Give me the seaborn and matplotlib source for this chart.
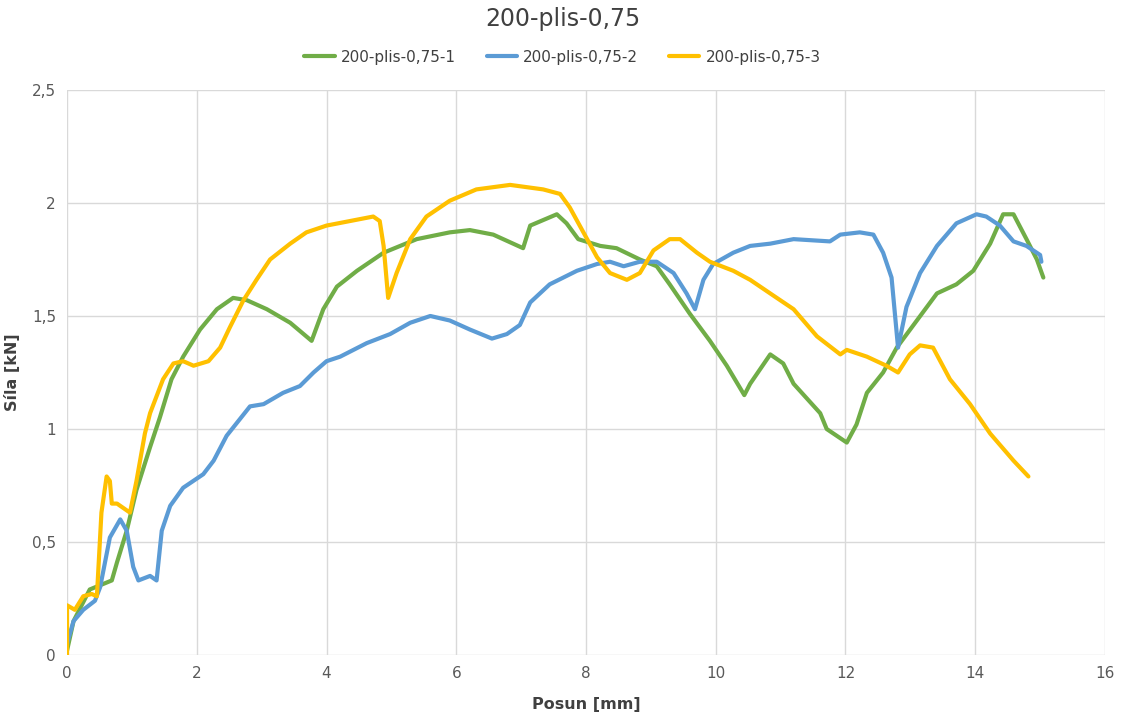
import matplotlib
matplotlib.use("Agg")
import matplotlib.pyplot as plt
import seaborn as sns
import pandas as pd
from matplotlib.ticker import FuncFormatter, MultipleLocator

# Posun [mm] / Síla [kN] for each specimen
x1 = [0.00, 0.10, 0.35, 0.69, 0.77, 0.92, 1.07, 1.28, 1.43, 1.61, 1.79, 2.05, 2.31, 2.56, 2.77,
      3.08, 3.44, 3.77, 3.95, 4.16, 4.47, 4.88, 5.39, 5.90, 6.21, 6.57, 7.03, 7.14, 7.55, 7.70,
      7.88, 8.22, 8.47, 8.83, 9.09, 9.29, 9.60, 9.91, 10.17, 10.44, 10.53, 10.84, 11.04, 11.20,
      11.61, 11.71, 12.02, 12.17, 12.33, 12.58, 12.79, 13.10, 13.41, 13.71, 13.97, 14.23, 14.43,
      14.59, 14.79, 14.95, 15.05]
y1 = [0.02, 0.15, 0.29, 0.33, 0.41, 0.55, 0.73, 0.92, 1.05, 1.22, 1.32, 1.44, 1.53, 1.58, 1.57,
      1.53, 1.47, 1.39, 1.53, 1.63, 1.70, 1.78, 1.84, 1.87, 1.88, 1.86, 1.80, 1.90, 1.95, 1.91,
      1.84, 1.81, 1.80, 1.75, 1.72, 1.64, 1.51, 1.39, 1.28, 1.15, 1.20, 1.33, 1.29, 1.20,
      1.07, 1.00, 0.94, 1.02, 1.16, 1.25, 1.36, 1.48, 1.60, 1.64, 1.70, 1.82, 1.95,
      1.95, 1.84, 1.75, 1.67]

x2 = [0.00, 0.10, 0.25, 0.43, 0.51, 0.66, 0.82, 0.92, 1.02, 1.10, 1.28, 1.38, 1.46, 1.59, 1.79,
      2.10, 2.26, 2.46, 2.82, 3.03, 3.33, 3.59, 3.80, 4.00, 4.21, 4.62, 4.98, 5.29, 5.60, 5.90,
      6.21, 6.55, 6.78, 6.98, 7.14, 7.44, 7.86, 8.17, 8.37, 8.58, 8.83, 9.09, 9.35, 9.55, 9.68,
      9.81, 9.96, 10.27, 10.53, 10.84, 11.20, 11.76, 11.92, 12.22, 12.43, 12.58, 12.71, 12.81,
      12.94, 13.15, 13.41, 13.71, 14.02, 14.17, 14.38, 14.59, 14.79, 15.00, 15.02]
y2 = [0.05, 0.15, 0.20, 0.24, 0.30, 0.52, 0.60, 0.55, 0.39, 0.33, 0.35, 0.33, 0.55, 0.66, 0.74,
      0.80, 0.86, 0.97, 1.10, 1.11, 1.16, 1.19, 1.25, 1.30, 1.32, 1.38, 1.42, 1.47, 1.50, 1.48,
      1.44, 1.40, 1.42, 1.46, 1.56, 1.64, 1.70, 1.73, 1.74, 1.72, 1.74, 1.74, 1.69, 1.60, 1.53,
      1.66, 1.73, 1.78, 1.81, 1.82, 1.84, 1.83, 1.86, 1.87, 1.86, 1.78, 1.67, 1.36,
      1.54, 1.69, 1.81, 1.91, 1.95, 1.94, 1.90, 1.83, 1.81, 1.77, 1.74]

x3 = [0.00, 0.00, 0.12, 0.25, 0.38, 0.46, 0.53, 0.61, 0.66, 0.69, 0.77, 0.97, 1.07, 1.20, 1.28,
      1.48, 1.64, 1.79, 1.95, 2.18, 2.36, 2.51, 2.72, 2.92, 3.13, 3.44, 3.69, 4.00, 4.36, 4.72,
      4.82, 4.88, 4.95, 5.08, 5.29, 5.54, 5.90, 6.31, 6.83, 7.34, 7.60, 7.75, 7.96, 8.17, 8.37,
      8.63, 8.83, 9.04, 9.29, 9.45, 9.71, 9.91, 10.27, 10.53, 10.89, 11.20, 11.56, 11.92, 12.02,
      12.33, 12.63, 12.81, 12.99, 13.15, 13.35, 13.61, 13.92, 14.23, 14.59, 14.82]
y3 = [0.00, 0.22, 0.20, 0.26, 0.27, 0.26, 0.63, 0.79, 0.77, 0.67, 0.67, 0.63, 0.77, 0.98, 1.07,
      1.22, 1.29, 1.30, 1.28, 1.30, 1.36, 1.45, 1.57, 1.66, 1.75, 1.82, 1.87, 1.90, 1.92, 1.94,
      1.92, 1.81, 1.58, 1.69, 1.84, 1.94, 2.01, 2.06, 2.08, 2.06, 2.04, 1.98, 1.87, 1.76, 1.69,
      1.66, 1.69, 1.79, 1.84, 1.84, 1.78, 1.74, 1.70, 1.66, 1.59, 1.53, 1.41, 1.33, 1.35,
      1.32, 1.28, 1.25, 1.33, 1.37, 1.36, 1.22, 1.11, 0.98, 0.86, 0.79]

names = ["200-plis-0,75-1", "200-plis-0,75-2", "200-plis-0,75-3"]
colors = ["#70AD47", "#5B9BD5", "#FFC000"]

frames = []
for name, xs, ys in zip(names, [x1, x2, x3], [y1, y2, y3]):
    frames.append(pd.DataFrame({"Posun": xs, "Sila": ys, "Vzorek": name}))
df = pd.concat(frames, ignore_index=True)

sns.set_theme(style="white")
plt.rcParams["font.family"] = ["Liberation Sans Narrow", "DejaVu Sans"]

fig = plt.figure(figsize=(11.25, 7.14), dpi=100)
ax = fig.add_axes([0.0596, 0.0826, 0.9226, 0.7914])

sns.lineplot(data=df, x="Posun", y="Sila", hue="Vzorek", palette=colors,
             sort=False, estimator=None, linewidth=3.0, ax=ax, legend=False)
for ln in ax.get_lines():
    ln.set_solid_joinstyle("round")
    ln.set_solid_capstyle("round")

ax.set_xlim(0, 16)
ax.set_ylim(0, 2.5)
ax.xaxis.set_major_locator(MultipleLocator(2))
ax.yaxis.set_major_locator(MultipleLocator(0.5))
ax.yaxis.set_major_formatter(FuncFormatter(lambda v, p: f"{v:g}".replace(".", ",")))
ax.grid(True, color="#d9d9d9", linewidth=1.0)
ax.set_axisbelow(True)
for s in ax.spines.values():
    s.set_visible(False)
ax.tick_params(axis="both", length=0, labelsize=11, labelcolor="#595959", pad=8)

ax.set_xlabel("Posun [mm]", fontsize=11.5, fontweight="bold", color="#404040")
ax.set_ylabel("Síla [kN]", fontsize=11.5, fontweight="bold", color="#404040")
ax.xaxis.set_label_coords(0.5, -0.075)
ax.yaxis.set_label_coords(-0.045, 0.5)

fig.suptitle("200-plis-0,75", fontsize=17, color="#404040", y=0.99)

handles = [plt.Line2D([], [], color=c, linewidth=3.0) for c in colors]
fig.legend(handles, names, loc="center", bbox_to_anchor=(0.5, 0.92), ncol=3,
           frameon=False, fontsize=11, handlelength=2.0, columnspacing=2.0,
           handletextpad=0.4, labelcolor="#404040")

fig.savefig("out.png", dpi=100, facecolor="white")
